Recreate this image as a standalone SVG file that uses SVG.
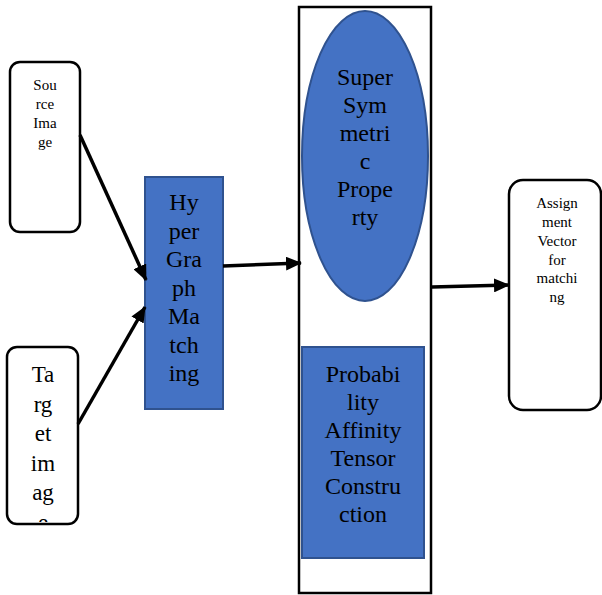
<svg xmlns="http://www.w3.org/2000/svg" width="602" height="595" viewBox="0 0 602 595">
<style>
.t{font-family:"Liberation Serif","Times New Roman",serif;fill:#000;text-anchor:middle}
.s{font-size:15px}
.l{font-size:24px}
.wb{fill:#fff;stroke:#000;stroke-width:2.5}
.bb{fill:#4472C4;stroke:#2F528F;stroke-width:2}
.c{stroke:#000;stroke-width:3.5;fill:none}
</style>
<defs>
<marker id="ah" markerUnits="userSpaceOnUse" markerWidth="16" markerHeight="14" refX="15" refY="7" orient="auto">
<path d="M0,0 L16,7 L0,14 Z" fill="#000"/>
</marker>
<clipPath id="tc"><rect x="7" y="347" width="71" height="175"/></clipPath>
</defs>
<g id="container"><rect x="299" y="7" width="132" height="586" fill="#fff" stroke="#000" stroke-width="2.5"/></g>
<g id="source">
<rect class="wb" x="10" y="62" width="70" height="170" rx="10"/>
<text class="t s"><tspan x="45" y="90">Sou</tspan><tspan x="45" y="109">rce</tspan><tspan x="45" y="128">Ima</tspan><tspan x="45" y="147">ge</tspan></text>
</g>
<g id="target">
<rect class="wb" x="7" y="347" width="71" height="177" rx="10"/>
<text class="t" font-size="23" clip-path="url(#tc)"><tspan x="43" y="382">Ta</tspan><tspan x="43" y="411.5">rg</tspan><tspan x="43" y="441">et</tspan><tspan x="43" y="470.5">im</tspan><tspan x="43" y="500">ag</tspan><tspan x="43" y="529.5">e</tspan></text>
</g>
<g id="hypergraph">
<rect class="bb" x="145" y="177" width="78" height="232"/>
<text class="t l"><tspan x="184" y="210">Hy</tspan><tspan x="184" y="238.5">per</tspan><tspan x="184" y="267">Gra</tspan><tspan x="184" y="295.5">ph</tspan><tspan x="184" y="324">Ma</tspan><tspan x="184" y="352.5">tch</tspan><tspan x="184" y="381">ing</tspan></text>
</g>
<g id="supersymmetric">
<ellipse class="bb" cx="365" cy="156" rx="63" ry="145"/>
<text class="t l"><tspan x="365" y="85">Super</tspan><tspan x="365" y="113">Sym</tspan><tspan x="365" y="141">metri</tspan><tspan x="365" y="169">c</tspan><tspan x="365" y="197">Prope</tspan><tspan x="365" y="225">rty</tspan></text>
</g>
<g id="probability">
<rect class="bb" x="302" y="347" width="122" height="211"/>
<text class="t l"><tspan x="363" y="382">Probabi</tspan><tspan x="363" y="410">lity</tspan><tspan x="363" y="438">Affinity</tspan><tspan x="363" y="466">Tensor</tspan><tspan x="363" y="494">Constru</tspan><tspan x="363" y="522">ction</tspan></text>
</g>
<g id="assignment">
<rect class="wb" x="509" y="180" width="92" height="230" rx="14"/>
<text class="t s"><tspan x="557" y="208">Assign</tspan><tspan x="557" y="227">ment</tspan><tspan x="557" y="246">Vector</tspan><tspan x="557" y="264.5">for</tspan><tspan x="557" y="283">matchi</tspan><tspan x="557" y="302">ng</tspan></text>
</g>
<g id="connectors">
<line class="c" x1="80" y1="135" x2="146" y2="280" marker-end="url(#ah)"/>
<line class="c" x1="78" y1="424" x2="145" y2="307" marker-end="url(#ah)"/>
<line class="c" x1="223" y1="266" x2="301" y2="263" marker-end="url(#ah)"/>
<line class="c" x1="432" y1="287" x2="509" y2="285" marker-end="url(#ah)"/>
</g>
</svg>
